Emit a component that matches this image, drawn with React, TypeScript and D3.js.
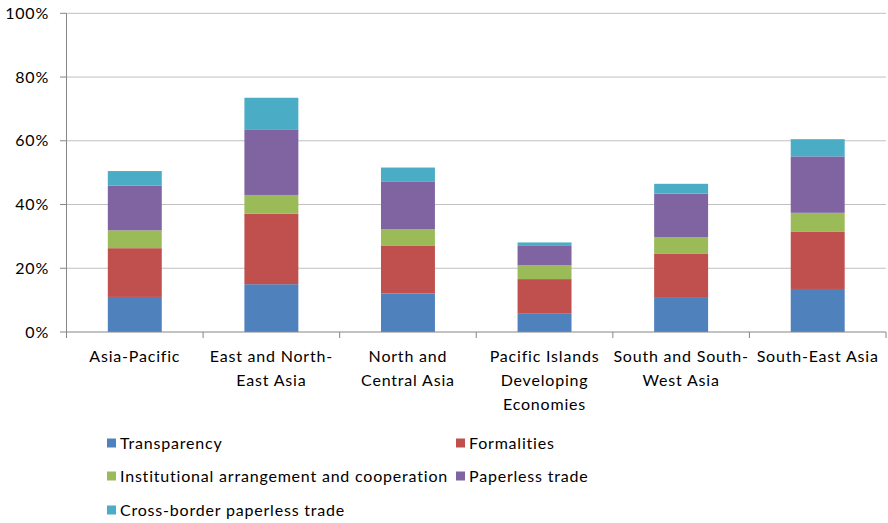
import React from "react";
import * as d3 from "d3";

const categories = [
  ["Asia-Pacific"],
  ["East and North-", "East Asia"],
  ["North and", "Central Asia"],
  ["Pacific Islands", "Developing", "Economies"],
  ["South and South-", "West Asia"],
  ["South-East Asia"],
];
const seriesNames = [
  "Transparency",
  "Formalities",
  "Institutional arrangement and cooperation",
  "Paperless trade",
  "Cross-border paperless trade",
];
const transparency = [11.0, 15.0, 12.1, 5.9, 10.7, 13.5];
const formalities = [15.3, 22.1, 14.9, 10.7, 13.8, 17.9];
const institutional = [5.6, 5.9, 5.3, 4.3, 5.3, 6.0];
const paperless = [14.0, 20.6, 14.8, 6.3, 13.6, 17.7];
const crossBorder = [4.6, 9.9, 4.5, 0.9, 3.1, 5.4];
const yTicks = [0, 20, 40, 60, 80, 100];
const colors = ["#4F81BD", "#C0504D", "#9BBB59", "#8064A2", "#4BACC6"];

const W = 888;
const H = 523;
const left = 66.5;
const right = 886;
const top = 13.3;
const bottom = 332;
const font = "Lato, 'Open Sans', sans-serif";
const ls = 0.8;

export default function App() {
  const series = [transparency, formalities, institutional, paperless, crossBorder];
  const rows = categories.map((c, i) => {
    const r: any = { key: i };
    series.forEach((s, j) => (r["s" + j] = s[i]));
    return r;
  });
  const stacked = d3.stack<any>().keys(series.map((_, j) => "s" + j))(rows);
  const x = d3
    .scaleBand<number>()
    .domain(categories.map((_, i) => i))
    .range([left, right])
    .paddingInner(0.605)
    .paddingOuter(0.3025);
  const band = (right - left) / categories.length;
  const y = d3.scaleLinear().domain([0, 100]).range([bottom, top]);

  const legendPos = seriesNames.map((_, i) => ({
    x: i % 2 === 0 ? 107 : 456,
    y: [443, 476, 510][Math.floor(i / 2)],
  }));

  return (
    <svg
      width={W}
      height={H}
      style={{ position: "absolute", left: 0, top: 0, background: "#fff" }}
      fontFamily={font}
      letterSpacing={ls}
    >
      {yTicks.map((t) => (
        <g key={t}>
          {t > 0 && (
            <line x1={left} x2={right} y1={y(t)} y2={y(t)} stroke="#c0c0c0" strokeWidth={1} />
          )}
          <line x1={60} x2={left} y1={y(t)} y2={y(t)} stroke="#868686" />
          <text x={49} y={y(t)} dy="0.35em" textAnchor="end" fontSize={16} fill="#000">
            {t}%
          </text>
        </g>
      ))}
      {stacked.map((layer, j) => (
        <g key={j} fill={colors[j]}>
          {layer.map((d, i) => (
            <rect
              key={i}
              x={x(i)}
              width={x.bandwidth()}
              y={y(d[1])}
              height={y(d[0]) - y(d[1])}
            />
          ))}
        </g>
      ))}
      <line x1={left} x2={left} y1={top} y2={bottom} stroke="#868686" />
      <line x1={left} x2={right} y1={bottom} y2={bottom} stroke="#868686" />
      {d3.range(categories.length + 1).map((i) => (
        <line
          key={i}
          x1={left + i * band}
          x2={left + i * band}
          y1={bottom}
          y2={bottom + 6}
          stroke="#868686"
        />
      ))}
      {categories.map((lines, i) => (
        <text
          key={i}
          x={(x(i) as number) + x.bandwidth() / 2}
          y={362}
          textAnchor="middle"
          fontSize={16}
          fill="#000"
        >
          {lines.map((l, k) => (
            <tspan key={k} x={(x(i) as number) + x.bandwidth() / 2} dy={k === 0 ? 0 : 24}>
              {l}
            </tspan>
          ))}
        </text>
      ))}
      {seriesNames.map((n, i) => (
        <g key={n}>
          <rect x={legendPos[i].x} y={legendPos[i].y - 4.5} width={9} height={9} fill={colors[i]} />
          <text x={legendPos[i].x + 13} y={legendPos[i].y} dy="0.35em" fontSize={16} fill="#000">
            {n}
          </text>
        </g>
      ))}
    </svg>
  );
}
